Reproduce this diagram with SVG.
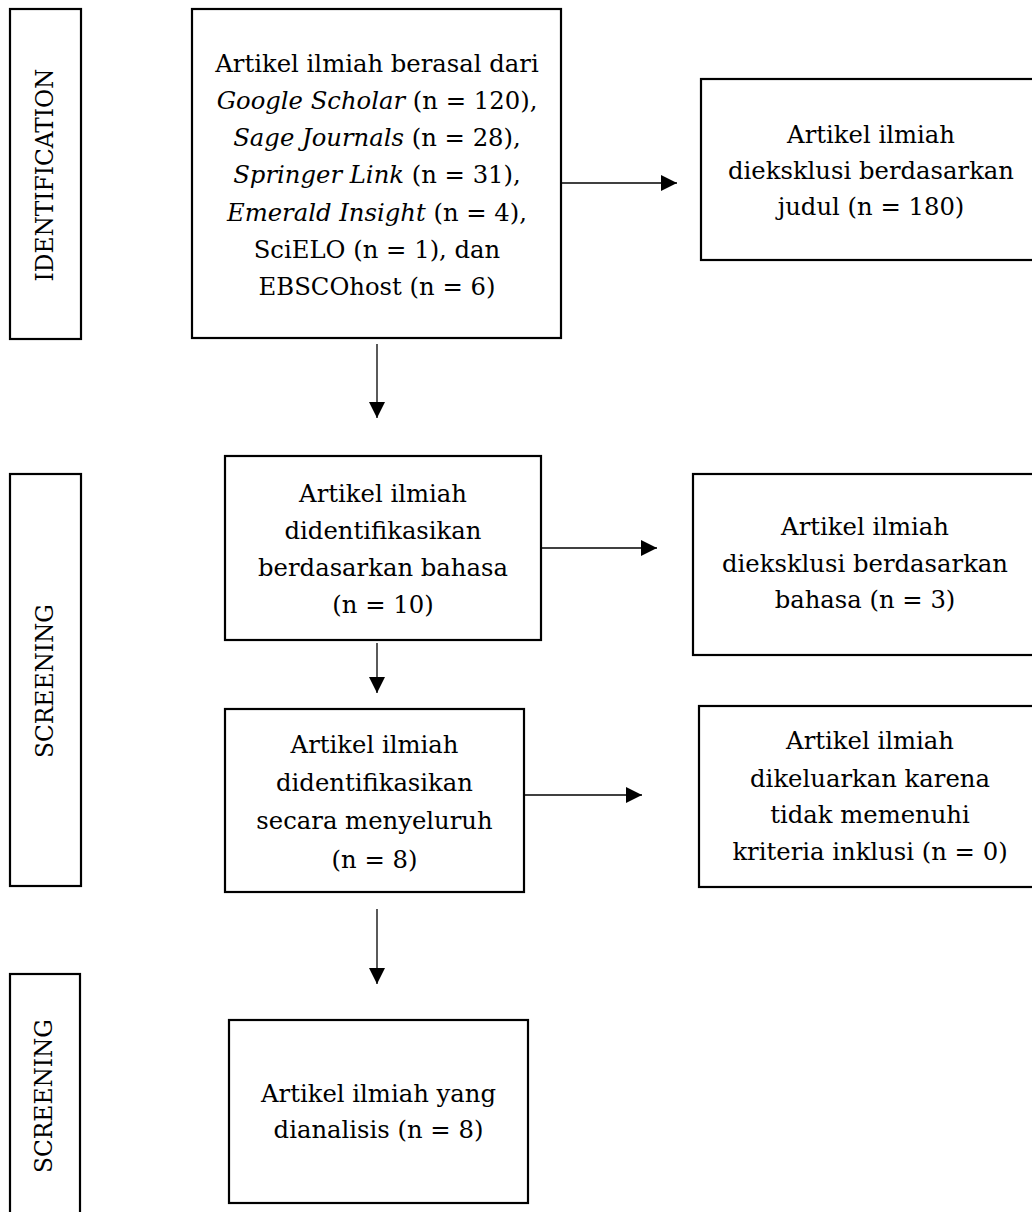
<svg xmlns="http://www.w3.org/2000/svg" width="1032" height="1212" viewBox="0 0 1032 1212">
  <defs>
    <style>
      .box { fill: #ffffff; stroke: #000000; stroke-width: 2.2; }
      .lbl { fill: #ffffff; stroke: #000000; stroke-width: 2.2; }
      .t { font-family: "DejaVu Serif", "Liberation Serif", serif; font-size: 24.3px; fill: #000000; text-anchor: middle; }
      .v { font-family: "DejaVu Serif", "Liberation Serif", serif; font-size: 23.3px; fill: #000000; text-anchor: middle; }
      .i { font-style: italic; }
      .c { fill: none; stroke: #000000; stroke-width: 1.3; }
    </style>
    <marker id="ah" markerUnits="userSpaceOnUse" markerWidth="17" markerHeight="17" refX="16" refY="8" orient="auto">
      <path d="M0,0 L16,8 L0,16 Z" fill="#000000"/>
    </marker>
  </defs>
  <rect x="0" y="0" width="1032" height="1212" fill="#ffffff"/>

  <g id="label-identification">
    <rect class="lbl" x="10" y="9" width="71" height="330"/>
    <text class="v" transform="translate(53,175) rotate(-90)">IDENTIFICATION</text>
  </g>
  <g id="label-screening-1">
    <rect class="lbl" x="10" y="474" width="71" height="412"/>
    <text class="v" transform="translate(53,681) rotate(-90)">SCREENING</text>
  </g>
  <g id="label-screening-2">
    <rect class="lbl" x="10" y="974" width="70" height="260"/>
    <text class="v" transform="translate(52,1096) rotate(-90)">SCREENING</text>
  </g>

  <g id="node-sources">
    <rect class="box" x="192" y="9" width="369" height="329"/>
    <text class="t" x="377" y="71.5">Artikel ilmiah berasal dari</text>
    <text class="t" x="377" y="108.8"><tspan class="i">Google Scholar</tspan> (n = 120),</text>
    <text class="t" x="377" y="146"><tspan class="i">Sage Journals</tspan> (n = 28),</text>
    <text class="t" x="377" y="183.3"><tspan class="i">Springer Link</tspan> (n = 31),</text>
    <text class="t" x="377" y="220.5"><tspan class="i">Emerald Insight</tspan> (n = 4),</text>
    <text class="t" x="377" y="257.8">SciELO (n = 1), dan</text>
    <text class="t" x="377" y="295">EBSCOhost (n = 6)</text>
  </g>

  <g id="node-excluded-title">
    <rect class="box" x="701" y="79" width="334" height="181"/>
    <text class="t" x="871" y="143">Artikel ilmiah</text>
    <text class="t" x="871" y="179">dieksklusi berdasarkan</text>
    <text class="t" x="871" y="215">judul (n = 180)</text>
  </g>

  <g id="node-language">
    <rect class="box" x="225" y="456" width="316" height="184"/>
    <text class="t" x="383" y="502">Artikel ilmiah</text>
    <text class="t" x="383" y="539">didentifikasikan</text>
    <text class="t" x="383" y="576">berdasarkan bahasa</text>
    <text class="t" x="383" y="613">(n = 10)</text>
  </g>

  <g id="node-excluded-language">
    <rect class="box" x="693" y="474" width="342" height="181"/>
    <text class="t" x="865" y="535">Artikel ilmiah</text>
    <text class="t" x="865" y="572">dieksklusi berdasarkan</text>
    <text class="t" x="865" y="608">bahasa (n = 3)</text>
  </g>

  <g id="node-full">
    <rect class="box" x="225" y="709" width="299" height="183"/>
    <text class="t" x="374.5" y="753">Artikel ilmiah</text>
    <text class="t" x="374.5" y="791">didentifikasikan</text>
    <text class="t" x="374.5" y="829">secara menyeluruh</text>
    <text class="t" x="374.5" y="868">(n = 8)</text>
  </g>

  <g id="node-excluded-criteria">
    <rect class="box" x="699" y="706" width="336" height="181"/>
    <text class="t" x="870" y="749">Artikel ilmiah</text>
    <text class="t" x="870" y="787">dikeluarkan karena</text>
    <text class="t" x="870" y="823">tidak memenuhi</text>
    <text class="t" x="870" y="860">kriteria inklusi (n = 0)</text>
  </g>

  <g id="node-analyzed">
    <rect class="box" x="229" y="1020" width="299" height="183"/>
    <text class="t" x="378.5" y="1102">Artikel ilmiah yang</text>
    <text class="t" x="378.5" y="1138">dianalisis (n = 8)</text>
  </g>

  <g id="connectors">
    <line class="c" x1="562" y1="183" x2="677" y2="183" marker-end="url(#ah)"/>
    <line class="c" x1="377" y1="344" x2="377" y2="418" marker-end="url(#ah)"/>
    <line class="c" x1="542" y1="548" x2="657" y2="548" marker-end="url(#ah)"/>
    <line class="c" x1="377" y1="643" x2="377" y2="693" marker-end="url(#ah)"/>
    <line class="c" x1="525" y1="795" x2="642" y2="795" marker-end="url(#ah)"/>
    <line class="c" x1="377" y1="909" x2="377" y2="984" marker-end="url(#ah)"/>
  </g>
</svg>
